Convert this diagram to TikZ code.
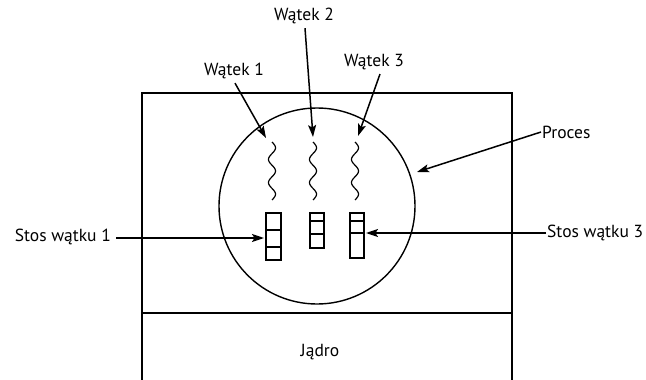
\documentclass[tikz,border=0pt]{standalone}
\usepackage{fontspec}
\setmainfont{PT Sans}
\usetikzlibrary{arrows.meta}
\begin{document}
\begin{tikzpicture}[x=1pt,y=-1pt,
  lbl/.style={font=\fontsize{17.5}{19}\selectfont, inner sep=1pt},
  arr/.style={line width=1.5pt, -{Stealth[length=12pt,width=8pt,inset=2.5pt]}},
  wave/.style={line width=1.2pt},
  cell/.style={draw, line width=1.2pt}]
\useasboundingbox (0,0) rectangle (646,380);
% outer frame
\draw[line width=1.4pt] (142,382) -- (142,93) -- (512,93) -- (512,382);
\draw[line width=1.4pt] (142,313) -- (512,313);
\node[lbl] (jadro) at (320,352) {Jądro};
% process circle
\node[draw, circle, line width=1.4pt, minimum size=196pt, inner sep=0pt] (proc) at (317,206) {};
% threads (wavy lines)
\foreach \x/\nm in {272/t1,313/t2,355/t3}{
  \coordinate (\nm) at (\x,140);
  \draw[wave] plot[domain=0:1, samples=80, smooth, variable=\t] ({\x+3.5*sin(900*\t)}, {142+58*\t});
}
% stacks
\draw[cell] (266,213) rectangle (281,260);
\draw[cell] (266,230) -- (281,230) (266,247) -- (281,247);
\coordinate (s1w) at (264,238);
\draw[cell] (310,213) rectangle (324,248);
\draw[cell] (310,221) -- (324,221) (310,234) -- (324,234);
\draw[cell] (350,213) rectangle (364,258);
\draw[cell] (350,221) -- (364,221) (350,233) -- (364,233);
\coordinate (s3e) at (366,233);
% labels
\node[lbl] (w1) at (234,71) {Wątek 1};
\node[lbl] (w2) at (304,16) {Wątek 2};
\node[lbl] (w3) at (374,62) {Wątek 3};
\node[lbl, anchor=west] (pr) at (541,132) {Proces};
\node[lbl, anchor=east] (st1) at (112,237) {Stos wątku 1};
\node[lbl, anchor=west] (st3) at (546,233) {Stos wątku 3};
% arrow targets
\coordinate (a1) at (266,138);
\coordinate (a2) at (313,137);
\coordinate (a3) at (358,136);
\coordinate (ap) at (417,172);
% arrows
\draw[arr] (w1.south) ++(1,3) -- (a1);
\draw[arr] (w2.south) ++(1,3) -- (a2);
\draw[arr] (w3.south) ++(6,3) -- (a3);
\draw[arr] (pr.west) -- (ap);
\draw[arr] (st1.east) ++(4,1) -- (s1w);
\draw[arr] (st3.west) -- (s3e);
\end{tikzpicture}
\end{document}
